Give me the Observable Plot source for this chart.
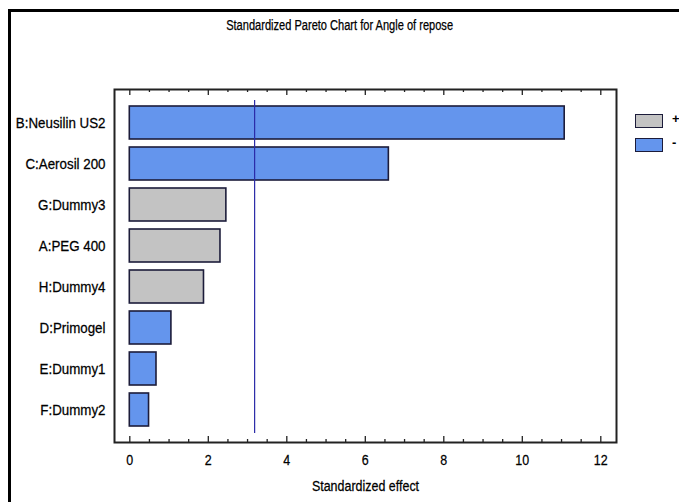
<!DOCTYPE html>
<html>
<head>
<meta charset="utf-8">
<script src="https://cdn.jsdelivr.net/npm/d3@7"></script>
<script src="https://cdn.jsdelivr.net/npm/@observablehq/plot@0.6"></script>
<style>
  html, body { margin: 0; padding: 0; background: #fff; }
  #wrap { position: relative; width: 679px; height: 502px; overflow: hidden; background: #fff;
          font-family: "Liberation Sans", Arial, sans-serif; }
  #border { position: absolute; left: 8px; top: 9px; width: 800px; height: 700px; border: 3px solid #000; box-sizing: border-box; pointer-events: none; }
  #title { height: 45px; box-sizing: border-box; padding-top: 17px; line-height: 16px; font-size: 14px; text-align: center; color: #000;
           transform: scaleX(0.79); transform-origin: 340px 0; -webkit-text-stroke: 0.25px #000; }
  #legend { position: absolute; left: 635px; top: 114px; font-size: 13px; color: #000; }
  .item { position: relative; height: 24px; }
  .sw { position: absolute; left: 0; top: 0; width: 28px; height: 14px; box-sizing: border-box; border: 1.6px solid #1c1c3a; }
  .lb { position: absolute; left: 37px; top: -3px; font-weight: bold; }
  svg text { font-family: "Liberation Sans", Arial, sans-serif; fill: #000; stroke: #000; stroke-width: 0.25px; }
</style>
</head>
<body>
<div id="wrap">
  <div id="title"></div>
  <div id="chart"></div>
  <div id="legend"></div>
  <div id="border"></div>
</div>
<script>
const title = "Standardized Pareto Chart for Angle of repose";
const xLabel = "Standardized effect";
const names = ["B:Neusilin US2", "C:Aerosil 200", "G:Dummy3", "A:PEG 400", "H:Dummy4", "D:Primogel", "E:Dummy1", "F:Dummy2"];
const effects = [11.08, 6.6, 2.46, 2.31, 1.89, 1.06, 0.68, 0.49];
const signs = ["-", "-", "+", "+", "+", "-", "-", "-"];
const critical = 3.18;
const majorTicks = [0, 2, 4, 6, 8, 10, 12];
const minorTicks = d3.range(0, 12.01, 0.5).filter(v => v % 2 !== 0);
const legendKeys = ["+", "-"];
const colors = {"+": "#c3c3c3", "-": "#6495ed"};

const data = names.map((n, i) => ({name: n, value: effects[i], sign: signs[i]}));

document.getElementById("title").textContent = title;

const W = 679, H = 457;
const mt = 44, mb = 60, ml = 114, mr = 63;
const innerH = H - mt - mb;

const chart = Plot.plot({
  width: W,
  height: H,
  marginTop: mt,
  marginBottom: mb,
  marginLeft: ml,
  marginRight: mr,
  style: {fontSize: "14px", color: "#000", background: "#fff"},
  x: {domain: [-0.39, 12.4]},
  y: {domain: names, paddingInner: 0.2, paddingOuter: 0.36},
  marks: [
    Plot.barX(data, {x: "value", y: "name", fill: d => colors[d.sign], stroke: "#1c1c3a", strokeWidth: 1.6}),
    Plot.ruleX([critical], {stroke: "#2a2aa8", strokeWidth: 1.2, insetTop: 11, insetBottom: 9}),
    Plot.ruleX(majorTicks, {stroke: "#222", strokeWidth: 1.3, insetTop: innerH - 6}),
    Plot.ruleX(minorTicks, {stroke: "#222", strokeWidth: 1.3, insetTop: innerH - 3}),
    Plot.ruleX(majorTicks, {stroke: "#222", strokeWidth: 1.3, insetBottom: innerH - 6}),
    Plot.ruleX(minorTicks, {stroke: "#222", strokeWidth: 1.3, insetBottom: innerH - 3}),
    Plot.frame({stroke: "#222", strokeWidth: 2}),
    Plot.axisX(majorTicks, {anchor: "bottom", tickSize: 0, tickPadding: 12, fontSize: 14.5,
      label: xLabel, labelAnchor: "center", labelArrow: "none", labelOffset: 48}),
    Plot.axisY({anchor: "left", tickSize: 0, tickPadding: 9, label: null, fontSize: 14.5, ariaLabel: "y-axis"})
  ]
});
document.getElementById("chart").appendChild(chart);

// condense the text horizontally around each label's anchor point
d3.select(chart).selectAll("text").each(function() {
  const t = this.getAttribute("transform");
  const isY = this.getAttribute("text-anchor") === "end" || (this.parentNode && this.parentNode.getAttribute("text-anchor") === "end");
  if (t) this.setAttribute("transform", t + (isY ? " scale(0.92,1)" : " scale(0.86,1)"));
});

const legend = document.getElementById("legend");
legendKeys.forEach(k => {
  const item = document.createElement("div");
  item.className = "item";
  const sw = document.createElement("div");
  sw.className = "sw";
  sw.style.background = colors[k];
  const lb = document.createElement("div");
  lb.className = "lb";
  lb.textContent = k;
  item.appendChild(sw);
  item.appendChild(lb);
  legend.appendChild(item);
});
</script>
</body>
</html>
